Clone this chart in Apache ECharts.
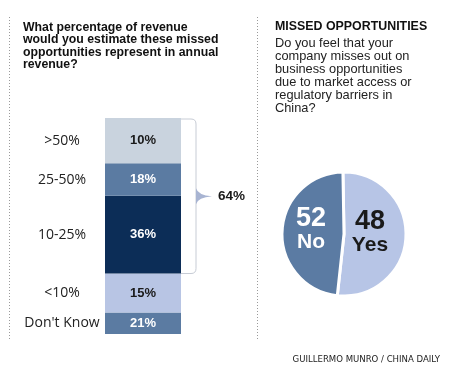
<!DOCTYPE html>
<html><head><meta charset="utf-8">
<script src="https://cdn.jsdelivr.net/npm/echarts@6/dist/echarts.min.js"></script>
<style>html,body{margin:0;padding:0;background:#fff}#c{width:450px;height:370px}</style>
</head><body><div id="c"></div>
<script>
// ---- data ----
const categories = ['>50%', '25-50%', '10-25%', '<10%', "Don't Know"];
const values = [10, 18, 36, 15, 21];
const bracketGroupSize = 3;           // the bracket groups the top three answers
const pieNames = ['Yes', 'No'];
const pieValues = [48, 52];
const leftTitle = 'What percentage of revenue\nwould you estimate these missed\nopportunities represent in annual\nrevenue?';
const rightHeading = 'MISSED OPPORTUNITIES';
const rightQuestion = 'Do you feel that your\ncompany misses out on\nbusiness opportunities\ndue to market access or\nregulatory barriers in\nChina?';
const sourceText = 'GUILLERMO MUNRO / CHINA DAILY';

// ---- styles ----
const segColors = ['#c9d3de', '#5b7ba2', '#0c2d57', '#b8c5e4', '#5b7ba2'];
const segTextColors = ['#1a1a1a', '#ffffff', '#ffffff', '#1a1a1a', '#ffffff'];
const pieColors = { Yes: '#b7c5e6', No: '#5b7ba3' };
const pieTextColors = { Yes: '#1a1a1a', No: '#ffffff' };
const pieLabelOffsets = { Yes: [-8, -3], No: [1, -3] };
const BAR_W = 76;
const n = values.length;
const SANS = 'Liberation Sans, Arial, sans-serif';

// The original graphic draws its blocks in reverse order of their labels
// (top block's height = last value, etc.) -- reproduce that.
const series = [];
for (let k = 0; k < n; k++) {          // bottom-up stacking
  const j = n - 1 - k;                 // visual position from top
  const h = values[k];
  series.push({
    type: 'bar', stack: 'total', barWidth: BAR_W, silent: true,
    data: [
      { value: h, itemStyle: { color: 'rgba(0,0,0,0)' },
        label: { show: true, position: 'inside', formatter: categories[j],
                 color: '#222', fontSize: 14, fontFamily: 'Open Sans, sans-serif', fontWeight: 'normal' } },
      { value: h, itemStyle: { color: segColors[j] },
        label: { show: true, position: 'inside', formatter: values[j] + '%',
                 color: segTextColors[j], fontSize: 13, fontWeight: 'bold', fontFamily: SANS } }
    ]
  });
}
const total = values.reduce((a, b) => a + b, 0);
let topSpan = 0; for (let j = 0; j < bracketGroupSize; j++) topSpan += values[n - 1 - j];
let groupSum = 0; for (let j = 0; j < bracketGroupSize; j++) groupSum += values[j];

series.push({
  type: 'custom', silent: true, clip: false,
  encode: { x: 0, y: [1, 2] },
  data: [[1, total, total - topSpan, groupSum]],
  renderItem: function (params, api) {
    const t = api.coord([api.value(0), api.value(1)]);
    const b = api.coord([api.value(0), api.value(2)]);
    const x0 = t[0] + BAR_W / 2, x1 = x0 + 15, r = 5;
    const y0 = t[1] + 1, y1 = b[1];
    const ym = (y0 + y1) / 2;
    return { type: 'group', children: [
      { type: 'path', shape: { pathData:
          'M' + x0 + ' ' + y0 + 'L' + (x1 - r) + ' ' + y0 + 'Q' + x1 + ' ' + y0 + ' ' + x1 + ' ' + (y0 + r) +
          'L' + x1 + ' ' + (y1 - r) + 'Q' + x1 + ' ' + y1 + ' ' + (x1 - r) + ' ' + y1 + 'L' + x0 + ' ' + y1 },
        style: { fill: 'none', stroke: '#c7ccd5', lineWidth: 1 } },
      { type: 'path', shape: { pathData:
          'M' + x1 + ' ' + (ym - 8) + 'Q' + (x1 + 2) + ' ' + (ym - 1) + ' ' + (x1 + 16) + ' ' + ym +
          'Q' + (x1 + 2) + ' ' + (ym + 1) + ' ' + x1 + ' ' + (ym + 8) + 'Z' },
        style: { fill: '#a8b4d2' } },
      { type: 'text', x: x1 + 22, y: ym, style: { text: api.value(3) + '%', fill: '#1a1a1a',
          font: 'bold 13.5px ' + SANS, verticalAlign: 'middle', align: 'left' } }
    ]};
  }
});

// The pie, like the bars, is drawn with its two slice sizes swapped relative to the labels.
series.push({
  type: 'pie', center: [344, 234], radius: 62, startAngle: 91, silent: true,
  itemStyle: { borderColor: '#fff', borderWidth: 3 },
  label: { show: true, position: 'inside' },
  labelLine: { show: false },
  data: pieNames.map((nm, i) => ({
    name: nm, value: pieValues[pieValues.length - 1 - i], itemStyle: { color: pieColors[nm] },
    label: {
      formatter: '{v|' + pieValues[i] + '}\n{n|' + nm + '}',
      offset: pieLabelOffsets[nm],
      rich: {
        v: { fontSize: 27, fontWeight: 'bold', color: pieTextColors[nm], lineHeight: 25, fontFamily: SANS },
        n: { fontSize: 21, fontWeight: 'bold', color: pieTextColors[nm], lineHeight: 22, fontFamily: SANS }
      } }
  }))
});

const chart = echarts.init(document.getElementById('c'), null, { renderer: 'canvas' });
chart.setOption({
  animation: false,
  backgroundColor: '#ffffff',
  grid: { left: 21.5, width: 162, top: 118, height: 216 },
  xAxis: { type: 'category', data: ['label', 'bar'], show: false },
  yAxis: { type: 'value', min: 0, max: total, show: false },
  graphic: [
    { type: 'line', shape: { x1: 9.5, y1: 17, x2: 9.5, y2: 340 }, style: { stroke: '#9a9a9a', lineDash: [1, 2], lineWidth: 1 } },
    { type: 'line', shape: { x1: 257.5, y1: 17, x2: 257.5, y2: 340 }, style: { stroke: '#9a9a9a', lineDash: [1, 2], lineWidth: 1 } },
    { type: 'text', left: 23, top: 21, style: { text: leftTitle, fill: '#111',
        font: 'bold 12.3px ' + SANS, lineHeight: 12.5 } },
    { type: 'text', left: 275, top: 21, style: { text: rightHeading, fill: '#111',
        font: 'bold 12.4px ' + SANS } },
    { type: 'text', left: 275, top: 37, style: { text: rightQuestion, fill: '#222',
        font: '12.8px ' + SANS, lineHeight: 13 } },
    { type: 'text', right: 10, top: 355, style: { text: sourceText, fill: '#222',
        font: '9.5px Liberation Sans Narrow, DejaVu Sans Condensed, sans-serif' } }
  ],
  series: series
});
</script></body></html>
